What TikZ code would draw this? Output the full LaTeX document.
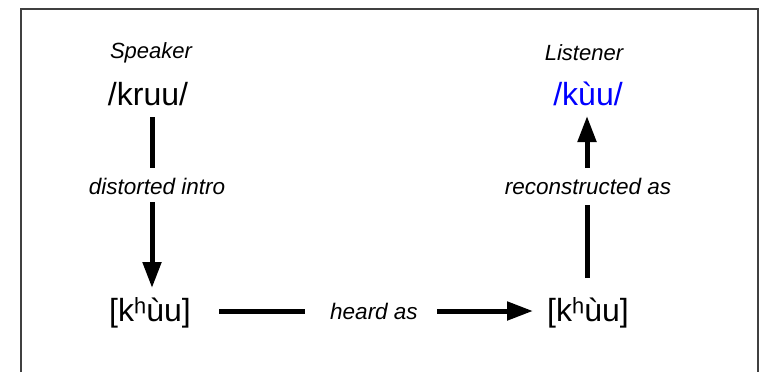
\documentclass[tikz,border=0pt]{standalone}
\usepackage{fontspec}
\setmainfont{Liberation Sans}
\usetikzlibrary{arrows.meta}
\definecolor{framegray}{HTML}{404040}
\definecolor{ipablue}{HTML}{0000FF}
\tikzset{
  frameline/.style={draw=framegray, line width=1.5pt},
  rolelabel/.style={font=\fontsize{22}{26}\selectfont\itshape, inner sep=0pt},
  ipa/.style={font=\fontsize{32}{38}\selectfont, inner sep=0pt, anchor=base},
  edgelabel/.style={font=\fontsize{22.5}{26}\selectfont\itshape, inner sep=0pt},
  seg/.style={line width=5pt},
  arr/.style={line width=5pt, -{Triangle[length=26pt,width=18pt]}},
}
\begin{document}
\begin{tikzpicture}[x=1pt,y=-1pt]
\useasboundingbox (0,0) rectangle (760,372);
% frame (bottom edge lies outside the picture)
\draw[frameline] (21,372) -- (21,9) -- (758,9) -- (758,372);

% texts
\node[rolelabel] (speaker) at (151,53) {Speaker};
\node[rolelabel] (listener) at (584,53) {Listener};
\node[ipa] (kruu) at (148,105) {/kruu/};
\node[ipa, text=ipablue] (kuu) at (588,105) {/kùu/};
\node[ipa] (khuuL) at (150,321) {[kʰùu]};
\node[ipa] (khuuR) at (588,321) {[kʰùu]};
\node[edgelabel] (distort) at (157,186) {distorted intro};
\node[edgelabel] (recon) at (588,186) {reconstructed as};
\node[edgelabel] (heard) at (374,311) {heard as};

% connector ends
\coordinate (l1) at (152,117);
\coordinate (l2) at (152,168);
\coordinate (l3) at (152,202);
\coordinate (l4) at (152,288);
\coordinate (r1) at (587,278);
\coordinate (r2) at (587,205);
\coordinate (r3) at (587,168);
\coordinate (r4) at (587,116);
\coordinate (h1) at (219,311);
\coordinate (h2) at (305,311);
\coordinate (h3) at (437,311);
\coordinate (h4) at (533,311);

% connectors
\draw[seg] (l1) -- (l2);
\draw[arr] (l3) -- (l4);
\draw[seg] (r1) -- (r2);
\draw[arr] (r3) -- (r4);
\draw[seg] (h1) -- (h2);
\draw[arr] (h3) -- (h4);
\end{tikzpicture}
\end{document}
